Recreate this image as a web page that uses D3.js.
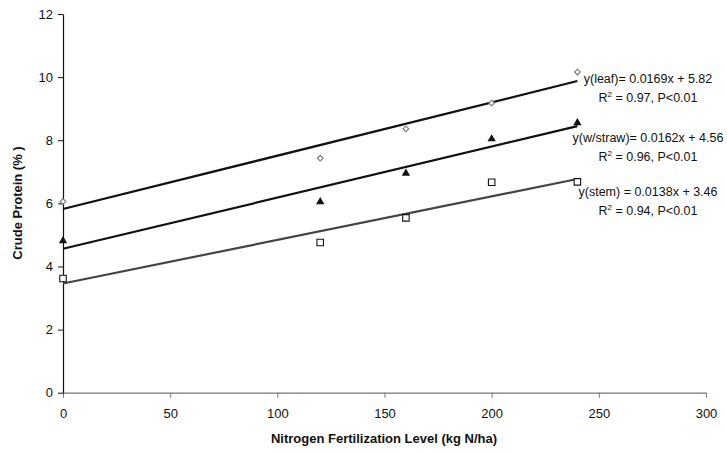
<!DOCTYPE html>
<html>
<head>
<meta charset="utf-8">
<script src="https://cdn.jsdelivr.net/npm/d3@7"></script>
<style>
  body { margin: 0; background: #fff; }
  svg { display: block; font-family: "Liberation Sans", Arial, sans-serif; }
</style>
</head>
<body>
<svg id="chart" width="727" height="454"></svg>
<script>
// ---- data ----
const nitrogen = [0, 120, 160, 200, 240];
const leaf = [6.06, 7.43, 8.36, 9.18, 10.16];
const wholeStraw = [4.81, 6.05, 6.95, 8.04, 8.55];
const stem = [3.62, 4.76, 5.54, 6.67, 6.68];
const seriesNames = ["leaf", "w/straw", "stem"];
const slopes = [0.0169, 0.0162, 0.0138];
const intercepts = [5.82, 4.56, 3.46];
const eqLabels = ["y(leaf)= 0.0169x + 5.82", "y(w/straw)= 0.0162x + 4.56", "y(stem) = 0.0138x + 3.46"];
const r2Labels = ["0.97", "0.96", "0.94"];
const xTicks = [0, 50, 100, 150, 200, 250, 300];
const yTicks = [0, 2, 4, 6, 8, 10, 12];

const svg = d3.select("#chart");
const x = d3.scaleLinear().domain([0, 300]).range([63, 706]);
const y = d3.scaleLinear().domain([0, 12]).range([392.7, 14]);

// axes
const xAxis = svg.append("g").attr("transform", `translate(0,${y(0)})`)
  .call(d3.axisBottom(x).tickValues(xTicks).tickSize(5).tickSizeOuter(0).tickPadding(11));
xAxis.select(".domain").attr("stroke", "#777").attr("stroke-width", 1.2);
xAxis.selectAll(".tick line").attr("stroke", "#777");
xAxis.selectAll("text").attr("font-size", 13).attr("fill", "#111");

const yAxis = svg.append("g").attr("transform", `translate(${x(0)},0)`)
  .call(d3.axisLeft(y).tickValues(yTicks).tickSize(5).tickSizeOuter(0).tickPadding(5));
yAxis.select(".domain").attr("stroke", "#111").attr("stroke-width", 1.2);
yAxis.selectAll(".tick line").attr("stroke", "#111");
yAxis.selectAll("text").attr("font-size", 13).attr("fill", "#111");

// axis titles
svg.append("text").attr("x", 384).attr("y", 443).attr("text-anchor", "middle")
  .attr("font-size", 13).attr("font-weight", "bold").attr("fill", "#111")
  .text("Nitrogen Fertilization Level (kg N/ha)");
svg.append("text").attr("transform", "translate(22,203) rotate(-90)").attr("text-anchor", "middle")
  .attr("font-size", 13).attr("font-weight", "bold").attr("fill", "#111")
  .text("Crude Protein (% )");

// regression lines
const lineColors = ["#111", "#111", "#444"];
[0, 1, 2].forEach(i => {
  const x0 = 0, x1 = 240;
  svg.append("line")
    .attr("x1", x(x0)).attr("y1", y(intercepts[i] + slopes[i] * x0))
    .attr("x2", x(x1)).attr("y2", y(intercepts[i] + slopes[i] * x1))
    .attr("stroke", lineColors[i]).attr("stroke-width", 2.2);
});

// markers
const diamond = d3.symbol().type(d3.symbolSquare).size(16);
const tri = d3.symbol().type(d3.symbolTriangle).size(30);
const sq = d3.symbol().type(d3.symbolSquare).size(42);

svg.append("g").selectAll("path").data(nitrogen).join("path")
  .attr("d", diamond).attr("transform", (d, i) => `translate(${x(d)},${y(leaf[i])}) rotate(45)`)
  .attr("fill", "#fff").attr("stroke", "#777").attr("stroke-width", 1.1);
svg.append("g").selectAll("path").data(nitrogen).join("path")
  .attr("d", tri).attr("transform", (d, i) => `translate(${x(d)},${y(wholeStraw[i])})`)
  .attr("fill", "#111");
svg.append("g").selectAll("path").data(nitrogen).join("path")
  .attr("d", sq).attr("transform", (d, i) => `translate(${x(d)},${y(stem[i])})`)
  .attr("fill", "#fff").attr("stroke", "#111").attr("stroke-width", 1.1);

// equation labels
const eqY = [83, 142, 196];
const centerX = 648;
[0, 1, 2].forEach(i => {
  svg.append("text").attr("x", centerX).attr("y", eqY[i]).attr("text-anchor", "middle")
    .attr("font-size", 12.5).attr("fill", "#111").text(eqLabels[i]);
  const t = svg.append("text").attr("x", centerX).attr("y", eqY[i] + 18.5).attr("text-anchor", "middle")
    .attr("font-size", 12.5).attr("fill", "#111");
  t.append("tspan").text("R");
  t.append("tspan").attr("font-size", 8).attr("dy", -5).text("2");
  t.append("tspan").attr("dy", 5).text(" = " + r2Labels[i] + ", P<0.01");
});
</script>
</body>
</html>
